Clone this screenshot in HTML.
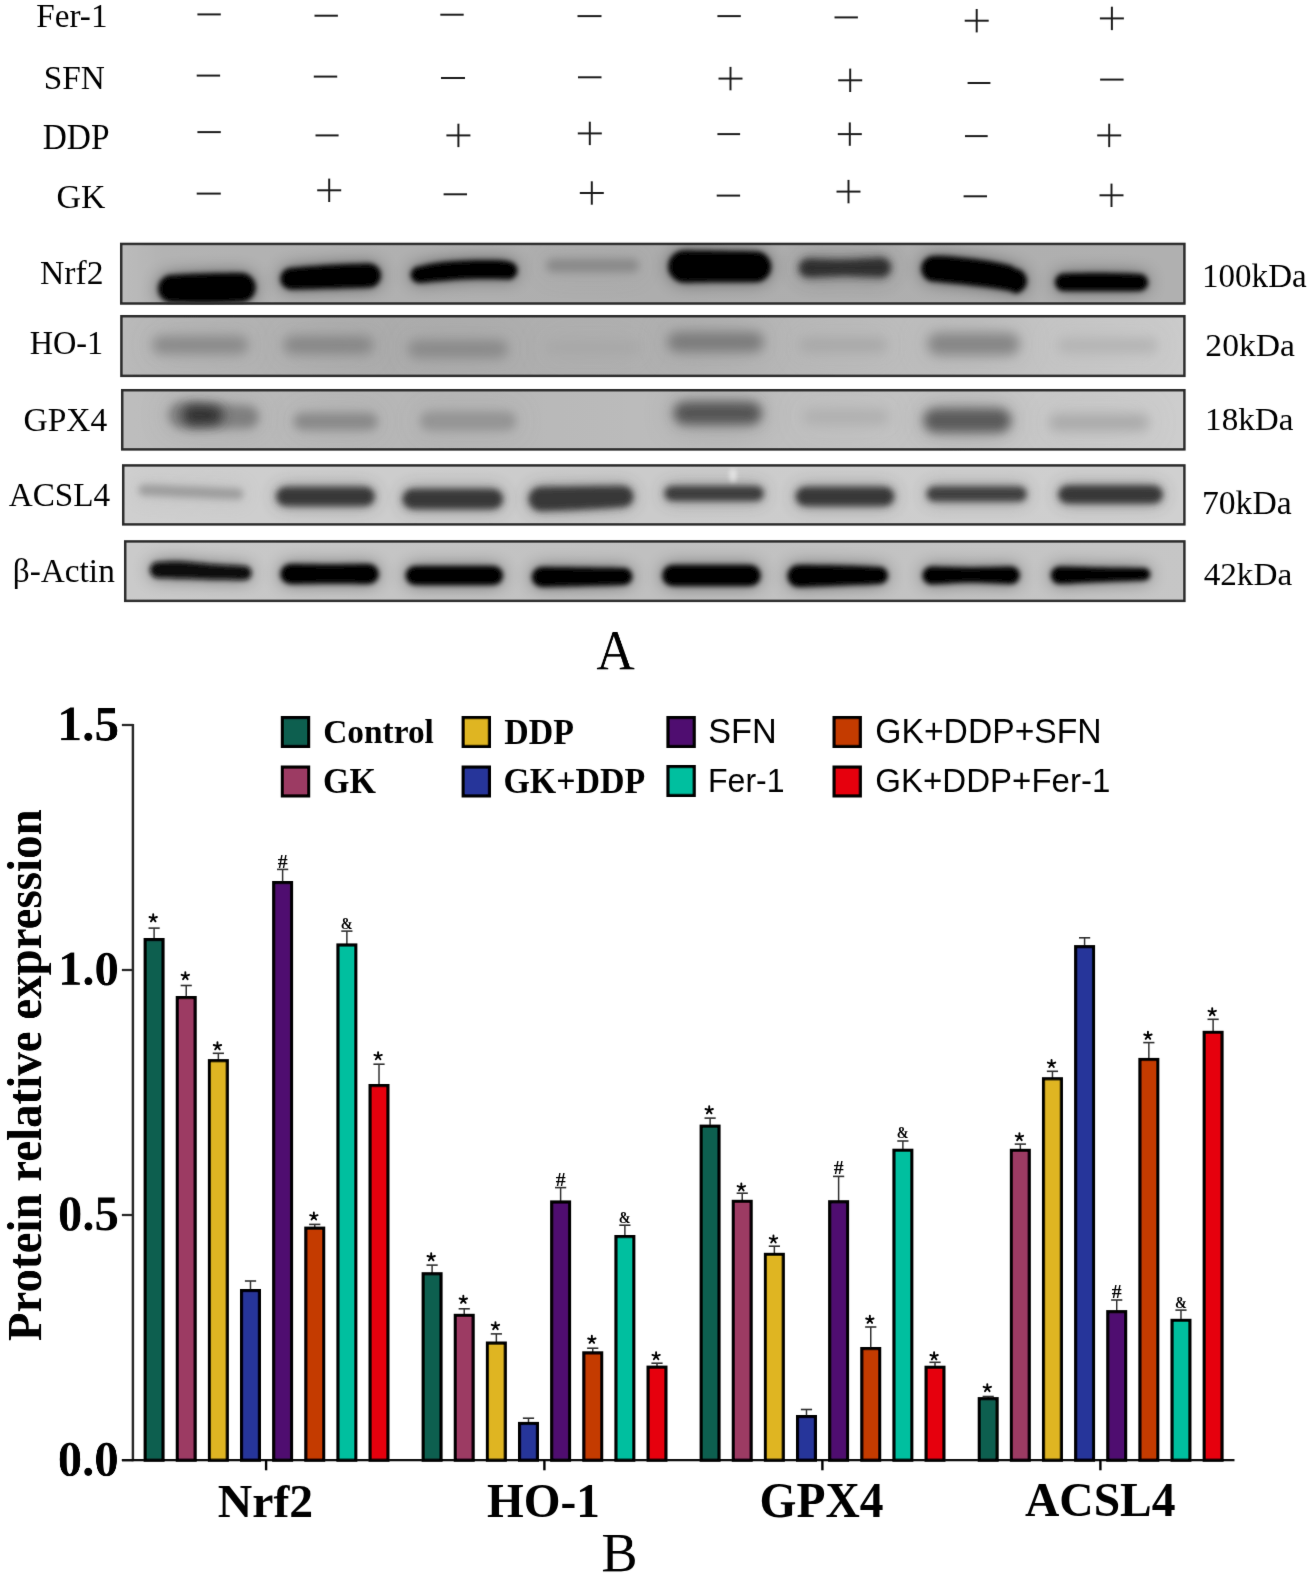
<!DOCTYPE html><html><head><meta charset="utf-8"><style>html,body{margin:0;padding:0;background:#fff;}svg{display:block;will-change:transform;}</style></head><body>
<svg width="1315" height="1580" viewBox="0 0 1315 1580"><defs><linearGradient id="g0" x1="0" y1="0" x2="1" y2="0"><stop offset="0" stop-color="#bcbcbc"/><stop offset="0.04" stop-color="#b3b3b3"/><stop offset="0.5" stop-color="#adadad"/><stop offset="1" stop-color="#b0b0b0"/></linearGradient><clipPath id="c0"><rect x="120.0" y="242.7" width="1065.6" height="62.0"/></clipPath><linearGradient id="g1" x1="0" y1="0" x2="1" y2="0"><stop offset="0" stop-color="#bababa"/><stop offset="0.25" stop-color="#adadad"/><stop offset="0.5" stop-color="#b0b0b0"/><stop offset="0.75" stop-color="#bdbdbd"/><stop offset="1" stop-color="#cbcbcb"/></linearGradient><clipPath id="c1"><rect x="120.2" y="315.0" width="1065.3999999999999" height="62.10000000000002"/></clipPath><linearGradient id="g2" x1="0" y1="0" x2="1" y2="0"><stop offset="0" stop-color="#bdbdbd"/><stop offset="0.3" stop-color="#b6b6b6"/><stop offset="0.6" stop-color="#bebebe"/><stop offset="1" stop-color="#cdcdcd"/></linearGradient><clipPath id="c2"><rect x="121.0" y="389.0" width="1064.6" height="61.60000000000002"/></clipPath><linearGradient id="g3" x1="0" y1="0" x2="1" y2="0"><stop offset="0" stop-color="#cfcfcf"/><stop offset="0.5" stop-color="#cbcbcb"/><stop offset="1" stop-color="#d0d0d0"/></linearGradient><clipPath id="c3"><rect x="122.0" y="464.2" width="1063.6" height="61.400000000000034"/></clipPath><linearGradient id="g4" x1="0" y1="0" x2="1" y2="0"><stop offset="0" stop-color="#cacaca"/><stop offset="0.5" stop-color="#c0c0c0"/><stop offset="1" stop-color="#c6c6c6"/></linearGradient><clipPath id="c4"><rect x="124.0" y="540.2" width="1061.6" height="61.89999999999998"/></clipPath><filter id="f2_0" filterUnits="userSpaceOnUse" x="0" y="230" width="1315" height="385"><feGaussianBlur stdDeviation="2.0"/></filter><filter id="f2_8" filterUnits="userSpaceOnUse" x="0" y="230" width="1315" height="385"><feGaussianBlur stdDeviation="2.8"/></filter><filter id="f3" filterUnits="userSpaceOnUse" x="0" y="230" width="1315" height="385"><feGaussianBlur stdDeviation="3"/></filter><filter id="f3_5" filterUnits="userSpaceOnUse" x="0" y="230" width="1315" height="385"><feGaussianBlur stdDeviation="3.5"/></filter><filter id="f3_8" filterUnits="userSpaceOnUse" x="0" y="230" width="1315" height="385"><feGaussianBlur stdDeviation="3.8"/></filter><filter id="f4_5" filterUnits="userSpaceOnUse" x="0" y="230" width="1315" height="385"><feGaussianBlur stdDeviation="4.5"/></filter><filter id="f5" filterUnits="userSpaceOnUse" x="0" y="230" width="1315" height="385"><feGaussianBlur stdDeviation="5"/></filter><filter id="f5_5" filterUnits="userSpaceOnUse" x="0" y="230" width="1315" height="385"><feGaussianBlur stdDeviation="5.5"/></filter><filter id="f6" filterUnits="userSpaceOnUse" x="0" y="230" width="1315" height="385"><feGaussianBlur stdDeviation="6"/></filter><filter id="f8_4" filterUnits="userSpaceOnUse" x="0" y="230" width="1315" height="385"><feGaussianBlur stdDeviation="8.4"/></filter><filter id="f9" filterUnits="userSpaceOnUse" x="0" y="230" width="1315" height="385"><feGaussianBlur stdDeviation="9"/></filter><filter id="f10_5" filterUnits="userSpaceOnUse" x="0" y="230" width="1315" height="385"><feGaussianBlur stdDeviation="10.5"/></filter><filter id="f11_4" filterUnits="userSpaceOnUse" x="0" y="230" width="1315" height="385"><feGaussianBlur stdDeviation="11.4"/></filter><filter id="f13_5" filterUnits="userSpaceOnUse" x="0" y="230" width="1315" height="385"><feGaussianBlur stdDeviation="13.5"/></filter><filter id="f15" filterUnits="userSpaceOnUse" x="0" y="230" width="1315" height="385"><feGaussianBlur stdDeviation="15"/></filter><filter id="f16_5" filterUnits="userSpaceOnUse" x="0" y="230" width="1315" height="385"><feGaussianBlur stdDeviation="16.5"/></filter><filter id="f18" filterUnits="userSpaceOnUse" x="0" y="230" width="1315" height="385"><feGaussianBlur stdDeviation="18"/></filter><filter id="soft" filterUnits="userSpaceOnUse" x="0" y="0" width="1315" height="1580"><feConvolveMatrix order="3" kernelMatrix="0.00525 0.0619 0.00525 0.0619 0.7314 0.0619 0.00525 0.0619 0.00525" divisor="1" edgeMode="none"/></filter></defs><rect width="1315" height="1580" fill="#fff"/><g filter="url(#soft)"><line x1="197.4" y1="14.4" x2="220.8" y2="14.4" stroke="#1e1e1e" stroke-width="2"/>
<line x1="314.5" y1="15.7" x2="337.9" y2="15.7" stroke="#1e1e1e" stroke-width="2"/>
<line x1="440.3" y1="14.7" x2="463.7" y2="14.7" stroke="#1e1e1e" stroke-width="2"/>
<line x1="577.5" y1="16.1" x2="601.5" y2="16.1" stroke="#1e1e1e" stroke-width="2"/>
<line x1="717.4" y1="16.1" x2="740.8" y2="16.1" stroke="#1e1e1e" stroke-width="2"/>
<line x1="834.5" y1="17.4" x2="857.9" y2="17.4" stroke="#1e1e1e" stroke-width="2"/>
<line x1="964.7" y1="20.7" x2="988.7" y2="20.7" stroke="#1e1e1e" stroke-width="2"/>
<line x1="976.7" y1="9.0" x2="976.7" y2="32.4" stroke="#1e1e1e" stroke-width="2"/>
<line x1="1099.9" y1="18.4" x2="1123.9" y2="18.4" stroke="#1e1e1e" stroke-width="2"/>
<line x1="1111.9" y1="6.7" x2="1111.9" y2="30.1" stroke="#1e1e1e" stroke-width="2"/>
<line x1="196.7" y1="75.6" x2="220.1" y2="75.6" stroke="#1e1e1e" stroke-width="2"/>
<line x1="313.8" y1="76.6" x2="337.2" y2="76.6" stroke="#1e1e1e" stroke-width="2"/>
<line x1="441" y1="78" x2="465" y2="78" stroke="#1e1e1e" stroke-width="2"/>
<line x1="578" y1="77.3" x2="601.5" y2="77.3" stroke="#1e1e1e" stroke-width="2"/>
<line x1="718.5" y1="78.6" x2="742.5" y2="78.6" stroke="#1e1e1e" stroke-width="2"/>
<line x1="730.5" y1="66.9" x2="730.5" y2="90.3" stroke="#1e1e1e" stroke-width="2"/>
<line x1="838.2" y1="80.3" x2="862.2" y2="80.3" stroke="#1e1e1e" stroke-width="2"/>
<line x1="850.2" y1="68.6" x2="850.2" y2="92.0" stroke="#1e1e1e" stroke-width="2"/>
<line x1="967.6" y1="83" x2="990.4" y2="83" stroke="#1e1e1e" stroke-width="2"/>
<line x1="1100.1" y1="79.6" x2="1123.6" y2="79.6" stroke="#1e1e1e" stroke-width="2"/>
<line x1="197.4" y1="132.1" x2="220.8" y2="132.1" stroke="#1e1e1e" stroke-width="2"/>
<line x1="315.5" y1="135.4" x2="338.6" y2="135.4" stroke="#1e1e1e" stroke-width="2"/>
<line x1="446.4" y1="135.4" x2="470.4" y2="135.4" stroke="#1e1e1e" stroke-width="2"/>
<line x1="458.4" y1="123.7" x2="458.4" y2="147.1" stroke="#1e1e1e" stroke-width="2"/>
<line x1="577.8" y1="133.4" x2="601.8" y2="133.4" stroke="#1e1e1e" stroke-width="2"/>
<line x1="589.8" y1="121.7" x2="589.8" y2="145.1" stroke="#1e1e1e" stroke-width="2"/>
<line x1="717.4" y1="134.1" x2="740.1" y2="134.1" stroke="#1e1e1e" stroke-width="2"/>
<line x1="837.8" y1="134.1" x2="861.8" y2="134.1" stroke="#1e1e1e" stroke-width="2"/>
<line x1="849.8" y1="122.4" x2="849.8" y2="145.8" stroke="#1e1e1e" stroke-width="2"/>
<line x1="965" y1="136.1" x2="987.7" y2="136.1" stroke="#1e1e1e" stroke-width="2"/>
<line x1="1097.2" y1="135.4" x2="1121.2" y2="135.4" stroke="#1e1e1e" stroke-width="2"/>
<line x1="1109.2" y1="123.7" x2="1109.2" y2="147.1" stroke="#1e1e1e" stroke-width="2"/>
<line x1="196.7" y1="193.6" x2="220.8" y2="193.6" stroke="#1e1e1e" stroke-width="2"/>
<line x1="317.2" y1="190.3" x2="341.2" y2="190.3" stroke="#1e1e1e" stroke-width="2"/>
<line x1="329.2" y1="178.6" x2="329.2" y2="202.0" stroke="#1e1e1e" stroke-width="2"/>
<line x1="443.6" y1="194.3" x2="467" y2="194.3" stroke="#1e1e1e" stroke-width="2"/>
<line x1="579.8" y1="193" x2="603.8" y2="193" stroke="#1e1e1e" stroke-width="2"/>
<line x1="591.8" y1="181.3" x2="591.8" y2="204.7" stroke="#1e1e1e" stroke-width="2"/>
<line x1="716.7" y1="195.6" x2="740.1" y2="195.6" stroke="#1e1e1e" stroke-width="2"/>
<line x1="836.5" y1="191.6" x2="860.5" y2="191.6" stroke="#1e1e1e" stroke-width="2"/>
<line x1="848.5" y1="179.9" x2="848.5" y2="203.3" stroke="#1e1e1e" stroke-width="2"/>
<line x1="963.6" y1="196.3" x2="987" y2="196.3" stroke="#1e1e1e" stroke-width="2"/>
<line x1="1099.5" y1="195.3" x2="1123.5" y2="195.3" stroke="#1e1e1e" stroke-width="2"/>
<line x1="1111.5" y1="183.6" x2="1111.5" y2="207.0" stroke="#1e1e1e" stroke-width="2"/>
<g clip-path="url(#c0)">
<rect x="120.0" y="242.7" width="1065.6" height="62.0" fill="url(#g0)"/>
<path d="M170.8,275.0 C176.6,274.8 194.3,273.8 206.0,273.5 C217.7,273.2 235.2,273.1 241.1,273.0 A14.5,14.5 0 0 1 241.1,302.0 C235.2,302.2 217.7,302.9 206.0,303.0 C194.3,303.1 176.6,302.6 170.8,302.5 A13.8,13.8 0 0 1 170.8,275.0 Z" fill="#000" opacity="0.5" filter="url(#f8_4)"/>
<path d="M170.8,275.0 C176.6,274.8 194.3,273.8 206.0,273.5 C217.7,273.2 235.2,273.1 241.1,273.0 A14.5,14.5 0 0 1 241.1,302.0 C235.2,302.2 217.7,302.9 206.0,303.0 C194.3,303.1 176.6,302.6 170.8,302.5 A13.8,13.8 0 0 1 170.8,275.0 Z" fill="#000" filter="url(#f2_8)"/>
<path d="M290.1,268.0 C296.7,267.5 316.9,265.8 330.0,265.0 C343.1,264.2 362.4,263.8 368.9,263.5 A12.0,12.0 0 0 1 368.9,287.5 C362.4,287.7 343.1,288.2 330.0,288.5 C316.9,288.8 296.7,289.3 290.1,289.5 A10.8,10.8 0 0 1 290.1,268.0 Z" fill="#000" opacity="0.5" filter="url(#f8_4)"/>
<path d="M290.1,268.0 C296.7,267.5 316.9,265.8 330.0,265.0 C343.1,264.2 362.4,263.8 368.9,263.5 A12.0,12.0 0 0 1 368.9,287.5 C362.4,287.7 343.1,288.2 330.0,288.5 C316.9,288.8 296.7,289.3 290.1,289.5 A10.8,10.8 0 0 1 290.1,268.0 Z" fill="#000" filter="url(#f2_8)"/>
<path d="M418.9,266.5 C422.5,265.8 431.5,263.5 440.0,262.5 C448.5,261.5 460.0,260.8 470.0,260.5 C480.0,260.2 493.6,260.3 500.0,260.5 C506.4,260.7 507.0,261.3 508.4,261.5 A9.0,9.0 0 0 1 508.4,279.5 C507.0,279.4 506.4,279.1 500.0,279.0 C493.6,278.9 480.0,278.7 470.0,279.0 C460.0,279.3 448.5,280.3 440.0,281.0 C431.5,281.7 422.5,282.7 418.9,283.0 A8.2,8.2 0 0 1 418.9,266.5 Z" fill="#000" opacity="0.5" filter="url(#f8_4)"/>
<path d="M418.9,266.5 C422.5,265.8 431.5,263.5 440.0,262.5 C448.5,261.5 460.0,260.8 470.0,260.5 C480.0,260.2 493.6,260.3 500.0,260.5 C506.4,260.7 507.0,261.3 508.4,261.5 A9.0,9.0 0 0 1 508.4,279.5 C507.0,279.4 506.4,279.1 500.0,279.0 C493.6,278.9 480.0,278.7 470.0,279.0 C460.0,279.3 448.5,280.3 440.0,281.0 C431.5,281.7 422.5,282.7 418.9,283.0 A8.2,8.2 0 0 1 418.9,266.5 Z" fill="#000" filter="url(#f2_8)"/>
<path d="M552.5,259.0 C565.8,259.0 619.2,259.0 632.5,259.0 A6.5,6.5 0 0 1 632.5,272.0 C619.2,272.0 565.8,272.0 552.5,272.0 A6.5,6.5 0 0 1 552.5,259.0 Z" fill="#888888" opacity="0.3" filter="url(#f13_5)"/>
<path d="M552.5,259.0 C565.8,259.0 619.2,259.0 632.5,259.0 A6.5,6.5 0 0 1 632.5,272.0 C619.2,272.0 565.8,272.0 552.5,272.0 A6.5,6.5 0 0 1 552.5,259.0 Z" fill="#888888" filter="url(#f4_5)"/>
<path d="M684.3,250.5 C690.2,250.6 708.1,250.8 720.0,251.0 C731.9,251.2 749.8,251.4 755.8,251.5 A15.2,15.2 0 0 1 755.8,282.0 C749.8,282.0 731.9,281.9 720.0,282.0 C708.1,282.1 690.2,282.4 684.3,282.5 A16.0,16.0 0 0 1 684.3,250.5 Z" fill="#000" opacity="0.5" filter="url(#f8_4)"/>
<path d="M684.3,250.5 C690.2,250.6 708.1,250.8 720.0,251.0 C731.9,251.2 749.8,251.4 755.8,251.5 A15.2,15.2 0 0 1 755.8,282.0 C749.8,282.0 731.9,281.9 720.0,282.0 C708.1,282.1 690.2,282.4 684.3,282.5 A16.0,16.0 0 0 1 684.3,250.5 Z" fill="#000" filter="url(#f2_8)"/>
<path d="M808.2,258.5 C814.3,258.7 832.9,259.7 845.0,259.5 C857.1,259.3 875.1,257.8 881.1,257.5 A10.0,10.0 0 0 1 881.1,277.5 C875.1,277.2 857.1,276.0 845.0,276.0 C832.9,276.0 814.3,277.2 808.2,277.5 A9.5,9.5 0 0 1 808.2,258.5 Z" fill="#2e2e2e" opacity="0.45" filter="url(#f11_4)"/>
<path d="M808.2,258.5 C814.3,258.7 832.9,259.7 845.0,259.5 C857.1,259.3 875.1,257.8 881.1,257.5 A10.0,10.0 0 0 1 881.1,277.5 C875.1,277.2 857.1,276.0 845.0,276.0 C832.9,276.0 814.3,277.2 808.2,277.5 A9.5,9.5 0 0 1 808.2,258.5 Z" fill="#2e2e2e" filter="url(#f3_8)"/>
<path d="M933.0,256.0 C935.9,256.1 941.3,255.8 950.0,256.5 C958.7,257.2 975.0,259.0 985.0,260.5 C995.0,262.0 1005.1,264.2 1010.0,265.5 C1014.9,266.8 1013.6,268.0 1014.3,268.5 A12.5,12.5 0 0 1 1014.3,293.5 C1013.6,293.1 1014.9,292.1 1010.0,291.0 C1005.1,289.9 995.0,288.3 985.0,287.0 C975.0,285.7 958.7,283.9 950.0,283.0 C941.3,282.1 935.9,281.8 933.0,281.5 A12.8,12.8 0 0 1 933.0,256.0 Z" fill="#000" opacity="0.5" filter="url(#f8_4)"/>
<path d="M933.0,256.0 C935.9,256.1 941.3,255.8 950.0,256.5 C958.7,257.2 975.0,259.0 985.0,260.5 C995.0,262.0 1005.1,264.2 1010.0,265.5 C1014.9,266.8 1013.6,268.0 1014.3,268.5 A12.5,12.5 0 0 1 1014.3,293.5 C1013.6,293.1 1014.9,292.1 1010.0,291.0 C1005.1,289.9 995.0,288.3 985.0,287.0 C975.0,285.7 958.7,283.9 950.0,283.0 C941.3,282.1 935.9,281.8 933.0,281.5 A12.8,12.8 0 0 1 933.0,256.0 Z" fill="#000" filter="url(#f2_8)"/>
<path d="M1062.8,273.5 C1069.2,273.4 1088.2,272.9 1101.0,273.0 C1113.8,273.1 1133.2,273.8 1139.6,274.0 A8.5,8.5 0 0 1 1139.6,291.0 C1133.2,291.0 1113.8,291.0 1101.0,291.0 C1088.2,291.0 1069.2,291.0 1062.8,291.0 A8.8,8.8 0 0 1 1062.8,273.5 Z" fill="#000" opacity="0.5" filter="url(#f8_4)"/>
<path d="M1062.8,273.5 C1069.2,273.4 1088.2,272.9 1101.0,273.0 C1113.8,273.1 1133.2,273.8 1139.6,274.0 A8.5,8.5 0 0 1 1139.6,291.0 C1133.2,291.0 1113.8,291.0 1101.0,291.0 C1088.2,291.0 1069.2,291.0 1062.8,291.0 A8.8,8.8 0 0 1 1062.8,273.5 Z" fill="#000" filter="url(#f2_8)"/>
</g>
<rect x="121.25" y="243.95" width="1063.1" height="59.5" fill="none" stroke="#2b2b2b" stroke-width="2.5"/>
<g clip-path="url(#c1)">
<rect x="120.2" y="315.0" width="1065.3999999999999" height="62.10000000000002" fill="url(#g1)"/>
<path d="M161.0,336.0 C174.1,336.0 226.4,336.0 239.5,336.0 A9.0,9.0 0 0 1 239.5,354.0 C226.4,354.0 174.1,354.0 161.0,354.0 A9.0,9.0 0 0 1 161.0,336.0 Z" fill="#8a8a8a" opacity="0.3" filter="url(#f18)"/>
<path d="M161.0,336.0 C174.1,336.0 226.4,336.0 239.5,336.0 A9.0,9.0 0 0 1 239.5,354.0 C226.4,354.0 174.1,354.0 161.0,354.0 A9.0,9.0 0 0 1 161.0,336.0 Z" fill="#8a8a8a" filter="url(#f6)"/>
<path d="M292.4,336.0 C304.4,336.0 352.6,336.0 364.7,336.0 A9.0,9.0 0 0 1 364.7,354.0 C352.6,354.0 304.4,354.0 292.4,354.0 A9.0,9.0 0 0 1 292.4,336.0 Z" fill="#878787" opacity="0.3" filter="url(#f18)"/>
<path d="M292.4,336.0 C304.4,336.0 352.6,336.0 364.7,336.0 A9.0,9.0 0 0 1 364.7,354.0 C352.6,354.0 304.4,354.0 292.4,354.0 A9.0,9.0 0 0 1 292.4,336.0 Z" fill="#878787" filter="url(#f6)"/>
<path d="M416.6,340.0 C430.4,340.0 485.4,340.0 499.2,340.0 A9.0,9.0 0 0 1 499.2,358.0 C485.4,358.0 430.4,358.0 416.6,358.0 A9.0,9.0 0 0 1 416.6,340.0 Z" fill="#8a8a8a" opacity="0.3" filter="url(#f18)"/>
<path d="M416.6,340.0 C430.4,340.0 485.4,340.0 499.2,340.0 A9.0,9.0 0 0 1 499.2,358.0 C485.4,358.0 430.4,358.0 416.6,358.0 A9.0,9.0 0 0 1 416.6,340.0 Z" fill="#8a8a8a" filter="url(#f6)"/>
<path d="M552.5,340.0 C565.8,340.0 619.2,340.0 632.5,340.0 A7.5,7.5 0 0 1 632.5,355.0 C619.2,355.0 565.8,355.0 552.5,355.0 A7.5,7.5 0 0 1 552.5,340.0 Z" fill="#a8a8a8" opacity="0.2" filter="url(#f18)"/>
<path d="M552.5,340.0 C565.8,340.0 619.2,340.0 632.5,340.0 A7.5,7.5 0 0 1 632.5,355.0 C619.2,355.0 565.8,355.0 552.5,355.0 A7.5,7.5 0 0 1 552.5,340.0 Z" fill="#a8a8a8" filter="url(#f6)"/>
<path d="M677.3,332.0 C690.0,332.0 741.0,332.0 753.8,332.0 A10.0,10.0 0 0 1 753.8,352.0 C741.0,352.0 690.0,352.0 677.3,352.0 A10.0,10.0 0 0 1 677.3,332.0 Z" fill="#7c7c7c" opacity="0.3" filter="url(#f18)"/>
<path d="M677.3,332.0 C690.0,332.0 741.0,332.0 753.8,332.0 A10.0,10.0 0 0 1 753.8,352.0 C741.0,352.0 690.0,352.0 677.3,352.0 A10.0,10.0 0 0 1 677.3,332.0 Z" fill="#7c7c7c" filter="url(#f6)"/>
<path d="M805.7,338.0 C818.1,338.0 867.6,338.0 880.0,338.0 A7.0,7.0 0 0 1 880.0,352.0 C867.6,352.0 818.1,352.0 805.7,352.0 A7.0,7.0 0 0 1 805.7,338.0 Z" fill="#a8a8a8" opacity="0.2" filter="url(#f18)"/>
<path d="M805.7,338.0 C818.1,338.0 867.6,338.0 880.0,338.0 A7.0,7.0 0 0 1 880.0,352.0 C867.6,352.0 818.1,352.0 805.7,352.0 A7.0,7.0 0 0 1 805.7,338.0 Z" fill="#a8a8a8" filter="url(#f6)"/>
<path d="M938.5,333.0 C950.2,333.0 996.9,333.0 1008.6,333.0 A11.0,11.0 0 0 1 1008.6,355.0 C996.9,355.0 950.2,355.0 938.5,355.0 A11.0,11.0 0 0 1 938.5,333.0 Z" fill="#868686" opacity="0.3" filter="url(#f18)"/>
<path d="M938.5,333.0 C950.2,333.0 996.9,333.0 1008.6,333.0 A11.0,11.0 0 0 1 1008.6,355.0 C996.9,355.0 950.2,355.0 938.5,355.0 A11.0,11.0 0 0 1 938.5,333.0 Z" fill="#868686" filter="url(#f6)"/>
<path d="M1064.7,338.0 C1078.9,338.0 1135.9,338.0 1150.1,338.0 A7.5,7.5 0 0 1 1150.1,353.0 C1135.9,353.0 1078.9,353.0 1064.7,353.0 A7.5,7.5 0 0 1 1064.7,338.0 Z" fill="#b4b4b4" opacity="0.2" filter="url(#f18)"/>
<path d="M1064.7,338.0 C1078.9,338.0 1135.9,338.0 1150.1,338.0 A7.5,7.5 0 0 1 1150.1,353.0 C1135.9,353.0 1078.9,353.0 1064.7,353.0 A7.5,7.5 0 0 1 1064.7,338.0 Z" fill="#b4b4b4" filter="url(#f6)"/>
</g>
<rect x="121.45" y="316.25" width="1062.8999999999999" height="59.60000000000002" fill="none" stroke="#2b2b2b" stroke-width="2.5"/>
<g clip-path="url(#c2)">
<rect x="121.0" y="389.0" width="1064.6" height="61.60000000000002" fill="url(#g2)"/>
<path d="M181.4,402.0 C192.4,402.7 236.6,405.3 247.7,406.0 A11.0,11.0 0 0 1 247.7,428.0 C236.6,428.0 192.4,428.0 181.4,428.0 A13.0,13.0 0 0 1 181.4,402.0 Z" fill="#7f7f7f" opacity="0.35" filter="url(#f15)"/>
<path d="M181.4,402.0 C192.4,402.7 236.6,405.3 247.7,406.0 A11.0,11.0 0 0 1 247.7,428.0 C236.6,428.0 192.4,428.0 181.4,428.0 A13.0,13.0 0 0 1 181.4,402.0 Z" fill="#7f7f7f" filter="url(#f5)"/>
<path d="M191.8,404.5 C195.5,404.7 210.5,405.3 214.2,405.5 A9.8,9.8 0 0 1 214.2,425.0 C210.5,425.2 195.5,425.8 191.8,426.0 A10.8,10.8 0 0 1 191.8,404.5 Z" fill="#333333" filter="url(#f6)"/>
<path d="M302.1,413.0 C313.3,413.0 358.1,413.0 369.3,413.0 A8.5,8.5 0 0 1 369.3,430.0 C358.1,430.0 313.3,430.0 302.1,430.0 A8.5,8.5 0 0 1 302.1,413.0 Z" fill="#898989" opacity="0.3" filter="url(#f15)"/>
<path d="M302.1,413.0 C313.3,413.0 358.1,413.0 369.3,413.0 A8.5,8.5 0 0 1 369.3,430.0 C358.1,430.0 313.3,430.0 302.1,430.0 A8.5,8.5 0 0 1 302.1,413.0 Z" fill="#898989" filter="url(#f5)"/>
<path d="M429.4,411.5 C442.3,411.5 494.0,411.5 506.9,411.5 A9.5,9.5 0 0 1 506.9,430.5 C494.0,430.5 442.3,430.5 429.4,430.5 A9.5,9.5 0 0 1 429.4,411.5 Z" fill="#949494" opacity="0.3" filter="url(#f15)"/>
<path d="M429.4,411.5 C442.3,411.5 494.0,411.5 506.9,411.5 A9.5,9.5 0 0 1 506.9,430.5 C494.0,430.5 442.3,430.5 429.4,430.5 A9.5,9.5 0 0 1 429.4,411.5 Z" fill="#949494" filter="url(#f5)"/>
<path d="M684.8,402.0 C695.7,402.0 739.6,402.0 750.5,402.0 A11.2,11.2 0 0 1 750.5,424.5 C739.6,424.5 695.7,424.5 684.8,424.5 A11.2,11.2 0 0 1 684.8,402.0 Z" fill="#555555" opacity="0.35" filter="url(#f16_5)"/>
<path d="M684.8,402.0 C695.7,402.0 739.6,402.0 750.5,402.0 A11.2,11.2 0 0 1 750.5,424.5 C739.6,424.5 695.7,424.5 684.8,424.5 A11.2,11.2 0 0 1 684.8,402.0 Z" fill="#555555" filter="url(#f5_5)"/>
<path d="M810.8,409.0 C822.5,409.0 869.3,409.0 881.0,409.0 A8.0,8.0 0 0 1 881.0,425.0 C869.3,425.0 822.5,425.0 810.8,425.0 A8.0,8.0 0 0 1 810.8,409.0 Z" fill="#b0b0b0" opacity="0.2" filter="url(#f18)"/>
<path d="M810.8,409.0 C822.5,409.0 869.3,409.0 881.0,409.0 A8.0,8.0 0 0 1 881.0,425.0 C869.3,425.0 822.5,425.0 810.8,425.0 A8.0,8.0 0 0 1 810.8,409.0 Z" fill="#b0b0b0" filter="url(#f6)"/>
<path d="M935.4,408.5 C946.0,408.5 988.6,408.5 999.2,408.5 A12.0,12.0 0 0 1 999.2,432.5 C988.6,432.5 946.0,432.5 935.4,432.5 A12.0,12.0 0 0 1 935.4,408.5 Z" fill="#5a5a5a" opacity="0.35" filter="url(#f16_5)"/>
<path d="M935.4,408.5 C946.0,408.5 988.6,408.5 999.2,408.5 A12.0,12.0 0 0 1 999.2,432.5 C988.6,432.5 946.0,432.5 935.4,432.5 A12.0,12.0 0 0 1 935.4,408.5 Z" fill="#5a5a5a" filter="url(#f5_5)"/>
<path d="M1057.3,414.0 C1071.2,414.0 1126.8,414.0 1140.7,414.0 A8.5,8.5 0 0 1 1140.7,431.0 C1126.8,431.0 1071.2,431.0 1057.3,431.0 A8.5,8.5 0 0 1 1057.3,414.0 Z" fill="#aaaaaa" opacity="0.2" filter="url(#f18)"/>
<path d="M1057.3,414.0 C1071.2,414.0 1126.8,414.0 1140.7,414.0 A8.5,8.5 0 0 1 1140.7,431.0 C1126.8,431.0 1071.2,431.0 1057.3,431.0 A8.5,8.5 0 0 1 1057.3,414.0 Z" fill="#aaaaaa" filter="url(#f6)"/>
</g>
<rect x="122.25" y="390.25" width="1062.1" height="59.10000000000002" fill="none" stroke="#2b2b2b" stroke-width="2.5"/>
<g clip-path="url(#c3)">
<rect x="122.0" y="464.2" width="1063.6" height="61.400000000000034" fill="url(#g3)"/>
<path d="M144.1,484.5 C159.7,485.2 222.2,487.8 237.8,488.5 A5.5,5.5 0 0 1 237.8,499.5 C222.2,498.8 159.7,496.2 144.1,495.5 A5.5,5.5 0 0 1 144.1,484.5 Z" fill="#9c9c9c" opacity="0.3" filter="url(#f10_5)"/>
<path d="M144.1,484.5 C159.7,485.2 222.2,487.8 237.8,488.5 A5.5,5.5 0 0 1 237.8,499.5 C222.2,498.8 159.7,496.2 144.1,495.5 A5.5,5.5 0 0 1 144.1,484.5 Z" fill="#9c9c9c" filter="url(#f3_5)"/>
<path d="M285.7,487.0 C298.9,487.0 351.9,487.0 365.2,487.0 A9.5,9.5 0 0 1 365.2,506.0 C351.9,506.0 298.9,506.0 285.7,506.0 A9.5,9.5 0 0 1 285.7,487.0 Z" fill="#383838" opacity="0.45" filter="url(#f9)"/>
<path d="M285.7,487.0 C298.9,487.0 351.9,487.0 365.2,487.0 A9.5,9.5 0 0 1 365.2,506.0 C351.9,506.0 298.9,506.0 285.7,506.0 A9.5,9.5 0 0 1 285.7,487.0 Z" fill="#383838" filter="url(#f3)"/>
<path d="M412.5,489.0 C425.9,489.0 479.6,489.0 493.0,489.0 A10.0,10.0 0 0 1 493.0,509.0 C479.6,509.0 425.9,509.0 412.5,509.0 A10.0,10.0 0 0 1 412.5,489.0 Z" fill="#383838" opacity="0.45" filter="url(#f9)"/>
<path d="M412.5,489.0 C425.9,489.0 479.6,489.0 493.0,489.0 A10.0,10.0 0 0 1 493.0,509.0 C479.6,509.0 425.9,509.0 412.5,509.0 A10.0,10.0 0 0 1 412.5,489.0 Z" fill="#383838" filter="url(#f3)"/>
<path d="M540.8,487.0 C547.5,486.9 567.3,486.7 581.0,486.5 C594.7,486.3 615.9,486.1 622.9,486.0 A10.5,10.5 0 0 1 622.9,507.0 C615.9,507.4 594.7,508.8 581.0,509.5 C567.3,510.2 547.5,510.8 540.8,511.0 A12.0,12.0 0 0 1 540.8,487.0 Z" fill="#383838" opacity="0.45" filter="url(#f9)"/>
<path d="M540.8,487.0 C547.5,486.9 567.3,486.7 581.0,486.5 C594.7,486.3 615.9,486.1 622.9,486.0 A10.5,10.5 0 0 1 622.9,507.0 C615.9,507.4 594.7,508.8 581.0,509.5 C567.3,510.2 547.5,510.8 540.8,511.0 A12.0,12.0 0 0 1 540.8,487.0 Z" fill="#383838" filter="url(#f3)"/>
<path d="M671.8,486.0 C685.9,486.0 742.2,486.0 756.3,486.0 A7.5,7.5 0 0 1 756.3,501.0 C742.2,501.0 685.9,501.0 671.8,501.0 A7.5,7.5 0 0 1 671.8,486.0 Z" fill="#3e3e3e" opacity="0.45" filter="url(#f9)"/>
<path d="M671.8,486.0 C685.9,486.0 742.2,486.0 756.3,486.0 A7.5,7.5 0 0 1 756.3,501.0 C742.2,501.0 685.9,501.0 671.8,501.0 A7.5,7.5 0 0 1 671.8,486.0 Z" fill="#3e3e3e" filter="url(#f3)"/>
<path d="M805.2,487.0 C818.5,487.0 871.5,487.0 884.7,487.0 A9.5,9.5 0 0 1 884.7,506.0 C871.5,506.0 818.5,506.0 805.2,506.0 A9.5,9.5 0 0 1 805.2,487.0 Z" fill="#383838" opacity="0.45" filter="url(#f9)"/>
<path d="M805.2,487.0 C818.5,487.0 871.5,487.0 884.7,487.0 A9.5,9.5 0 0 1 884.7,506.0 C871.5,506.0 818.5,506.0 805.2,506.0 A9.5,9.5 0 0 1 805.2,487.0 Z" fill="#383838" filter="url(#f3)"/>
<path d="M934.0,486.5 C948.2,486.5 1005.1,486.5 1019.3,486.5 A7.5,7.5 0 0 1 1019.3,501.5 C1005.1,501.5 948.2,501.5 934.0,501.5 A7.5,7.5 0 0 1 934.0,486.5 Z" fill="#414141" opacity="0.45" filter="url(#f9)"/>
<path d="M934.0,486.5 C948.2,486.5 1005.1,486.5 1019.3,486.5 A7.5,7.5 0 0 1 1019.3,501.5 C1005.1,501.5 948.2,501.5 934.0,501.5 A7.5,7.5 0 0 1 934.0,486.5 Z" fill="#414141" filter="url(#f3)"/>
<path d="M1067.3,485.5 C1081.7,485.5 1139.4,485.5 1153.8,485.5 A9.0,9.0 0 0 1 1153.8,503.5 C1139.4,503.5 1081.7,503.5 1067.3,503.5 A9.0,9.0 0 0 1 1067.3,485.5 Z" fill="#383838" opacity="0.45" filter="url(#f9)"/>
<path d="M1067.3,485.5 C1081.7,485.5 1139.4,485.5 1153.8,485.5 A9.0,9.0 0 0 1 1153.8,503.5 C1139.4,503.5 1081.7,503.5 1067.3,503.5 A9.0,9.0 0 0 1 1067.3,485.5 Z" fill="#383838" filter="url(#f3)"/>
<ellipse cx="733" cy="475" rx="4" ry="7" fill="#f4f4f4" opacity="0.6" filter="url(#f2_0)"/>
</g>
<rect x="123.25" y="465.45" width="1061.1" height="58.900000000000034" fill="none" stroke="#2b2b2b" stroke-width="2.5"/>
<g clip-path="url(#c4)">
<rect x="124.0" y="540.2" width="1061.6" height="61.89999999999998" fill="url(#g4)"/>
<path d="M158.0,562.0 C161.7,561.9 170.5,561.1 180.0,561.5 C189.5,561.9 204.2,563.8 215.0,564.5 C225.8,565.2 239.6,565.8 244.5,566.0 A7.0,7.0 0 0 1 244.5,580.0 C239.6,579.9 225.8,579.8 215.0,579.5 C204.2,579.2 189.5,578.8 180.0,578.5 C170.5,578.2 161.7,578.1 158.0,578.0 A8.0,8.0 0 0 1 158.0,562.0 Z" fill="#0a0a0a" opacity="0.5" filter="url(#f8_4)"/>
<path d="M158.0,562.0 C161.7,561.9 170.5,561.1 180.0,561.5 C189.5,561.9 204.2,563.8 215.0,564.5 C225.8,565.2 239.6,565.8 244.5,566.0 A7.0,7.0 0 0 1 244.5,580.0 C239.6,579.9 225.8,579.8 215.0,579.5 C204.2,579.2 189.5,578.8 180.0,578.5 C170.5,578.2 161.7,578.1 158.0,578.0 A8.0,8.0 0 0 1 158.0,562.0 Z" fill="#0a0a0a" filter="url(#f2_8)"/>
<path d="M290.3,564.0 C296.9,564.1 316.9,564.5 330.0,564.5 C343.1,564.5 362.3,564.1 368.8,564.0 A10.0,10.0 0 0 1 368.8,584.0 C362.3,583.9 343.1,583.5 330.0,583.5 C316.9,583.5 296.9,583.9 290.3,584.0 A10.0,10.0 0 0 1 290.3,564.0 Z" fill="#000" opacity="0.5" filter="url(#f8_4)"/>
<path d="M290.3,564.0 C296.9,564.1 316.9,564.5 330.0,564.5 C343.1,564.5 362.3,564.1 368.8,564.0 A10.0,10.0 0 0 1 368.8,584.0 C362.3,583.9 343.1,583.5 330.0,583.5 C316.9,583.5 296.9,583.9 290.3,584.0 A10.0,10.0 0 0 1 290.3,564.0 Z" fill="#000" filter="url(#f2_8)"/>
<path d="M415.1,566.0 C428.2,566.0 480.4,566.0 493.5,566.0 A9.5,9.5 0 0 1 493.5,585.0 C480.4,585.0 428.2,585.0 415.1,585.0 A9.5,9.5 0 0 1 415.1,566.0 Z" fill="#000" opacity="0.5" filter="url(#f8_4)"/>
<path d="M415.1,566.0 C428.2,566.0 480.4,566.0 493.5,566.0 A9.5,9.5 0 0 1 493.5,585.0 C480.4,585.0 428.2,585.0 415.1,585.0 A9.5,9.5 0 0 1 415.1,566.0 Z" fill="#000" filter="url(#f2_8)"/>
<path d="M541.8,567.0 C555.5,567.2 610.2,567.8 623.9,568.0 A8.5,8.5 0 0 1 623.9,585.0 C610.2,585.3 555.5,586.7 541.8,587.0 A10.0,10.0 0 0 1 541.8,567.0 Z" fill="#000" opacity="0.5" filter="url(#f8_4)"/>
<path d="M541.8,567.0 C555.5,567.2 610.2,567.8 623.9,568.0 A8.5,8.5 0 0 1 623.9,585.0 C610.2,585.3 555.5,586.7 541.8,587.0 A10.0,10.0 0 0 1 541.8,567.0 Z" fill="#000" filter="url(#f2_8)"/>
<path d="M672.7,565.0 C685.6,565.0 737.3,565.0 750.2,565.0 A10.5,10.5 0 0 1 750.2,586.0 C737.3,586.0 685.6,586.0 672.7,586.0 A10.5,10.5 0 0 1 672.7,565.0 Z" fill="#000" opacity="0.5" filter="url(#f8_4)"/>
<path d="M672.7,565.0 C685.6,565.0 737.3,565.0 750.2,565.0 A10.5,10.5 0 0 1 750.2,586.0 C737.3,586.0 685.6,586.0 672.7,586.0 A10.5,10.5 0 0 1 672.7,565.0 Z" fill="#000" filter="url(#f2_8)"/>
<path d="M798.5,565.0 C805.4,565.1 826.5,565.2 840.0,565.5 C853.5,565.8 872.9,566.8 879.5,567.0 A8.5,8.5 0 0 1 879.5,584.0 C872.9,584.2 853.5,585.0 840.0,585.5 C826.5,586.0 805.4,586.8 798.5,587.0 A11.0,11.0 0 0 1 798.5,565.0 Z" fill="#000" opacity="0.5" filter="url(#f8_4)"/>
<path d="M798.5,565.0 C805.4,565.1 826.5,565.2 840.0,565.5 C853.5,565.8 872.9,566.8 879.5,567.0 A8.5,8.5 0 0 1 879.5,584.0 C872.9,584.2 853.5,585.0 840.0,585.5 C826.5,586.0 805.4,586.8 798.5,587.0 A11.0,11.0 0 0 1 798.5,565.0 Z" fill="#000" filter="url(#f2_8)"/>
<path d="M931.4,566.5 C937.8,566.7 956.6,567.5 970.0,567.5 C983.4,567.5 1004.9,566.7 1011.9,566.5 A8.8,8.8 0 0 1 1011.9,584.0 C1004.9,583.8 983.4,582.4 970.0,582.5 C956.6,582.6 937.8,584.2 931.4,584.5 A9.0,9.0 0 0 1 931.4,566.5 Z" fill="#000" opacity="0.5" filter="url(#f8_4)"/>
<path d="M931.4,566.5 C937.8,566.7 956.6,567.5 970.0,567.5 C983.4,567.5 1004.9,566.7 1011.9,566.5 A8.8,8.8 0 0 1 1011.9,584.0 C1004.9,583.8 983.4,582.4 970.0,582.5 C956.6,582.6 937.8,584.2 931.4,584.5 A9.0,9.0 0 0 1 931.4,566.5 Z" fill="#000" filter="url(#f2_8)"/>
<path d="M1058.7,566.5 C1065.5,566.7 1085.8,567.2 1100.0,567.5 C1114.2,567.8 1136.6,567.9 1144.0,568.0 A6.2,6.2 0 0 1 1144.0,580.5 C1136.6,580.8 1114.2,581.4 1100.0,582.0 C1085.8,582.6 1065.5,583.7 1058.7,584.0 A8.8,8.8 0 0 1 1058.7,566.5 Z" fill="#000" opacity="0.5" filter="url(#f8_4)"/>
<path d="M1058.7,566.5 C1065.5,566.7 1085.8,567.2 1100.0,567.5 C1114.2,567.8 1136.6,567.9 1144.0,568.0 A6.2,6.2 0 0 1 1144.0,580.5 C1136.6,580.8 1114.2,581.4 1100.0,582.0 C1085.8,582.6 1065.5,583.7 1058.7,584.0 A8.8,8.8 0 0 1 1058.7,566.5 Z" fill="#000" filter="url(#f2_8)"/>
</g>
<rect x="125.25" y="541.45" width="1059.1" height="59.39999999999998" fill="none" stroke="#2b2b2b" stroke-width="2.5"/>
<text transform="translate(36.30 27.46) scale(0.3317 0.3403)" font-family="Liberation Serif" font-weight="normal" font-size="100" fill="#000">Fer-1</text>
<text transform="translate(43.67 89.22) scale(0.3333 0.3403)" font-family="Liberation Serif" font-weight="normal" font-size="100" fill="#000">SFN</text>
<text transform="translate(42.70 148.80) scale(0.3337 0.3554)" font-family="Liberation Serif" font-weight="normal" font-size="100" fill="#000">DDP</text>
<text transform="translate(56.55 207.92) scale(0.3381 0.3418)" font-family="Liberation Serif" font-weight="normal" font-size="100" fill="#000">GK</text>
<text transform="translate(40.09 283.90) scale(0.3361 0.3338)" font-family="Liberation Serif" font-weight="normal" font-size="100" fill="#000">Nrf2</text>
<text transform="translate(29.63 353.52) scale(0.3233 0.3382)" font-family="Liberation Serif" font-weight="normal" font-size="100" fill="#000">HO-1</text>
<text transform="translate(23.46 431.41) scale(0.3348 0.3433)" font-family="Liberation Serif" font-weight="normal" font-size="100" fill="#000">GPX4</text>
<text transform="translate(8.67 506.02) scale(0.3323 0.3382)" font-family="Liberation Serif" font-weight="normal" font-size="100" fill="#000">ACSL4</text>
<text transform="translate(12.70 581.68) scale(0.3334 0.3341)" font-family="Liberation Serif" font-weight="normal" font-size="100" fill="#000">β-Actin</text>
<text transform="translate(1202.02 286.64) scale(0.3307 0.3324)" font-family="Liberation Serif" font-weight="normal" font-size="100" fill="#000">100kDa</text>
<text transform="translate(1205.36 355.55) scale(0.3360 0.3225)" font-family="Liberation Serif" font-weight="normal" font-size="100" fill="#000">20kDa</text>
<text transform="translate(1205.12 430.05) scale(0.3316 0.3239)" font-family="Liberation Serif" font-weight="normal" font-size="100" fill="#000">18kDa</text>
<text transform="translate(1201.94 513.54) scale(0.3368 0.3282)" font-family="Liberation Serif" font-weight="normal" font-size="100" fill="#000">70kDa</text>
<text transform="translate(1203.64 584.67) scale(0.3323 0.3257)" font-family="Liberation Serif" font-weight="normal" font-size="100" fill="#000">42kDa</text>
<text transform="translate(596.17 669.57) scale(0.5343 0.5662)" font-family="Liberation Serif" font-weight="normal" font-size="100" fill="#000">A</text>
<text transform="translate(601.48 1571.10) scale(0.5407 0.5569)" font-family="Liberation Serif" font-weight="normal" font-size="100" fill="#000">B</text>
<text transform="translate(57.34 740.30) scale(0.4947 0.4970)" font-family="Liberation Serif" font-weight="bold" font-size="100" fill="#000">1.5</text>
<text transform="translate(57.90 984.63) scale(0.4876 0.4868)" font-family="Liberation Serif" font-weight="bold" font-size="100" fill="#000">1.0</text>
<text transform="translate(57.95 1230.00) scale(0.4872 0.5000)" font-family="Liberation Serif" font-weight="bold" font-size="100" fill="#000">0.5</text>
<text transform="translate(57.75 1475.30) scale(0.4872 0.4985)" font-family="Liberation Serif" font-weight="bold" font-size="100" fill="#000">0.0</text>
<text transform="translate(217.75 1516.53) scale(0.4773 0.4662)" font-family="Liberation Serif" font-weight="bold" font-size="100" fill="#000">Nrf2</text>
<text transform="translate(486.95 1516.71) scale(0.4728 0.4941)" font-family="Liberation Serif" font-weight="bold" font-size="100" fill="#000">HO-1</text>
<text transform="translate(759.53 1516.99) scale(0.4748 0.5061)" font-family="Liberation Serif" font-weight="bold" font-size="100" fill="#000">GPX4</text>
<text transform="translate(1025.02 1516.03) scale(0.4755 0.4838)" font-family="Liberation Serif" font-weight="bold" font-size="100" fill="#000">ACSL4</text>
<text transform="translate(323.13 743.45) scale(0.3342 0.3471)" font-family="Liberation Serif" font-weight="bold" font-size="100" fill="#000">Control</text>
<text transform="translate(323.10 792.94) scale(0.3400 0.3591)" font-family="Liberation Serif" font-weight="bold" font-size="100" fill="#000">GK</text>
<text transform="translate(504.22 743.80) scale(0.3388 0.3554)" font-family="Liberation Serif" font-weight="bold" font-size="100" fill="#000">DDP</text>
<text transform="translate(503.40 792.94) scale(0.3393 0.3591)" font-family="Liberation Serif" font-weight="bold" font-size="100" fill="#000">GK+DDP</text>
<text transform="translate(708.29 742.96) scale(0.3422 0.3423)" font-family="Liberation Sans" font-weight="normal" font-size="100" fill="#000">SFN</text>
<text transform="translate(708.04 792.16) scale(0.3204 0.3357)" font-family="Liberation Sans" font-weight="normal" font-size="100" fill="#000">Fer-1</text>
<text transform="translate(875.32 742.96) scale(0.3366 0.3423)" font-family="Liberation Sans" font-weight="normal" font-size="100" fill="#000">GK+DDP+SFN</text>
<text transform="translate(875.35 792.17) scale(0.3304 0.3310)" font-family="Liberation Sans" font-weight="normal" font-size="100" fill="#000">GK+DDP+Fer-1</text>
<text transform="translate(40.90 1341.14) rotate(-90) scale(0.4694 0.4931)" font-family="Liberation Serif" font-weight="bold" font-size="100">Protein relative expression</text>
<line x1="132.9" y1="724" x2="132.9" y2="1461.3" stroke="#262626" stroke-width="2.4"/>
<line x1="121.9" y1="725" x2="133" y2="725" stroke="#262626" stroke-width="2.2"/>
<line x1="121.9" y1="970" x2="133" y2="970" stroke="#262626" stroke-width="2.2"/>
<line x1="121.9" y1="1215" x2="133" y2="1215" stroke="#262626" stroke-width="2.2"/>
<line x1="121.9" y1="1460.2" x2="133" y2="1460.2" stroke="#262626" stroke-width="2.2"/>
<line x1="121.9" y1="1460.2" x2="1234.5" y2="1460.2" stroke="#111" stroke-width="2.3"/>
<line x1="266.1" y1="1460.2" x2="266.1" y2="1470.3" stroke="#000" stroke-width="2.4"/>
<line x1="544.4" y1="1460.2" x2="544.4" y2="1470.3" stroke="#000" stroke-width="2.4"/>
<line x1="822.4" y1="1460.2" x2="822.4" y2="1470.3" stroke="#000" stroke-width="2.4"/>
<line x1="1100.4" y1="1460.2" x2="1100.4" y2="1470.3" stroke="#000" stroke-width="2.4"/>
<line x1="154.10" y1="940" x2="154.10" y2="928.1" stroke="#333" stroke-width="1.5"/>
<line x1="148.50" y1="928.1" x2="159.70" y2="928.1" stroke="#333" stroke-width="1.6"/>
<rect x="145.20" y="939.60" width="17.80" height="520.60" fill="#115e50" stroke="#000" stroke-width="3.2"/>
<path d="M153.20,918.20L153.20,914.30M153.20,918.20L156.91,916.99M153.20,918.20L155.49,921.36M153.20,918.20L150.91,921.36M153.20,918.20L149.49,916.99" stroke="#000" stroke-width="1.9" stroke-linecap="round" fill="none"/>
<line x1="186.23" y1="998" x2="186.23" y2="985.5" stroke="#333" stroke-width="1.5"/>
<line x1="180.63" y1="985.5" x2="191.83" y2="985.5" stroke="#333" stroke-width="1.6"/>
<rect x="177.33" y="997.60" width="17.80" height="462.60" fill="#9c3a64" stroke="#000" stroke-width="3.2"/>
<path d="M185.33,976.00L185.33,972.10M185.33,976.00L189.04,974.79M185.33,976.00L187.62,979.16M185.33,976.00L183.04,979.16M185.33,976.00L181.62,974.79" stroke="#000" stroke-width="1.9" stroke-linecap="round" fill="none"/>
<line x1="218.36" y1="1061.1" x2="218.36" y2="1053.3" stroke="#333" stroke-width="1.5"/>
<line x1="212.76" y1="1053.3" x2="223.96" y2="1053.3" stroke="#333" stroke-width="1.6"/>
<rect x="209.46" y="1060.70" width="17.80" height="399.50" fill="#dfb520" stroke="#000" stroke-width="3.2"/>
<path d="M217.46,1046.20L217.46,1042.30M217.46,1046.20L221.17,1044.99M217.46,1046.20L219.75,1049.36M217.46,1046.20L215.17,1049.36M217.46,1046.20L213.75,1044.99" stroke="#000" stroke-width="1.9" stroke-linecap="round" fill="none"/>
<line x1="250.49" y1="1291" x2="250.49" y2="1281" stroke="#333" stroke-width="1.5"/>
<line x1="244.89" y1="1281" x2="256.09" y2="1281" stroke="#333" stroke-width="1.6"/>
<rect x="241.59" y="1290.60" width="17.80" height="169.60" fill="#28359a" stroke="#000" stroke-width="3.2"/>
<line x1="282.62" y1="883" x2="282.62" y2="869.4" stroke="#333" stroke-width="1.5"/>
<line x1="277.02" y1="869.4" x2="288.22" y2="869.4" stroke="#333" stroke-width="1.6"/>
<rect x="273.72" y="882.60" width="17.80" height="577.60" fill="#4f116f" stroke="#000" stroke-width="3.2"/>
<text transform="translate(277.67 868.15) scale(0.1979 0.1923)" font-family="Liberation Serif" font-weight="bold" font-size="100">#</text>
<line x1="314.75" y1="1228.6" x2="314.75" y2="1224.4" stroke="#333" stroke-width="1.5"/>
<line x1="309.15" y1="1224.4" x2="320.35" y2="1224.4" stroke="#333" stroke-width="1.6"/>
<rect x="305.85" y="1228.20" width="17.80" height="232.00" fill="#c43b06" stroke="#000" stroke-width="3.2"/>
<path d="M313.85,1216.40L313.85,1212.50M313.85,1216.40L317.56,1215.19M313.85,1216.40L316.14,1219.56M313.85,1216.40L311.56,1219.56M313.85,1216.40L310.14,1215.19" stroke="#000" stroke-width="1.9" stroke-linecap="round" fill="none"/>
<line x1="346.88" y1="945.4" x2="346.88" y2="931.1" stroke="#333" stroke-width="1.5"/>
<line x1="341.28" y1="931.1" x2="352.48" y2="931.1" stroke="#333" stroke-width="1.6"/>
<rect x="337.98" y="945.00" width="17.80" height="515.20" fill="#00bf9f" stroke="#000" stroke-width="3.2"/>
<text transform="translate(340.87 929.15) scale(0.1431 0.1761)" font-family="Liberation Serif" font-weight="bold" font-size="100">&amp;</text>
<line x1="379.01" y1="1086" x2="379.01" y2="1064.2" stroke="#333" stroke-width="1.5"/>
<line x1="373.41" y1="1064.2" x2="384.61" y2="1064.2" stroke="#333" stroke-width="1.6"/>
<rect x="370.11" y="1085.60" width="17.80" height="374.60" fill="#e60010" stroke="#000" stroke-width="3.2"/>
<path d="M378.11,1056.10L378.11,1052.20M378.11,1056.10L381.82,1054.89M378.11,1056.10L380.40,1059.26M378.11,1056.10L375.82,1059.26M378.11,1056.10L374.40,1054.89" stroke="#000" stroke-width="1.9" stroke-linecap="round" fill="none"/>
<line x1="432.10" y1="1274.2" x2="432.10" y2="1265.1" stroke="#333" stroke-width="1.5"/>
<line x1="426.50" y1="1265.1" x2="437.70" y2="1265.1" stroke="#333" stroke-width="1.6"/>
<rect x="423.20" y="1273.80" width="17.80" height="186.40" fill="#115e50" stroke="#000" stroke-width="3.2"/>
<path d="M431.20,1257.20L431.20,1253.30M431.20,1257.20L434.91,1255.99M431.20,1257.20L433.49,1260.36M431.20,1257.20L428.91,1260.36M431.20,1257.20L427.49,1255.99" stroke="#000" stroke-width="1.9" stroke-linecap="round" fill="none"/>
<line x1="464.23" y1="1315.8" x2="464.23" y2="1308.8" stroke="#333" stroke-width="1.5"/>
<line x1="458.63" y1="1308.8" x2="469.83" y2="1308.8" stroke="#333" stroke-width="1.6"/>
<rect x="455.33" y="1315.40" width="17.80" height="144.80" fill="#9c3a64" stroke="#000" stroke-width="3.2"/>
<path d="M463.33,1299.70L463.33,1295.80M463.33,1299.70L467.04,1298.49M463.33,1299.70L465.62,1302.86M463.33,1299.70L461.04,1302.86M463.33,1299.70L459.62,1298.49" stroke="#000" stroke-width="1.9" stroke-linecap="round" fill="none"/>
<line x1="496.36" y1="1343.5" x2="496.36" y2="1333.9" stroke="#333" stroke-width="1.5"/>
<line x1="490.76" y1="1333.9" x2="501.96" y2="1333.9" stroke="#333" stroke-width="1.6"/>
<rect x="487.46" y="1343.10" width="17.80" height="117.10" fill="#dfb520" stroke="#000" stroke-width="3.2"/>
<path d="M495.46,1326.00L495.46,1322.10M495.46,1326.00L499.17,1324.79M495.46,1326.00L497.75,1329.16M495.46,1326.00L493.17,1329.16M495.46,1326.00L491.75,1324.79" stroke="#000" stroke-width="1.9" stroke-linecap="round" fill="none"/>
<line x1="528.49" y1="1423.9" x2="528.49" y2="1418.2" stroke="#333" stroke-width="1.5"/>
<line x1="522.89" y1="1418.2" x2="534.09" y2="1418.2" stroke="#333" stroke-width="1.6"/>
<rect x="519.59" y="1423.50" width="17.80" height="36.70" fill="#28359a" stroke="#000" stroke-width="3.2"/>
<line x1="560.62" y1="1202.4" x2="560.62" y2="1187.6" stroke="#333" stroke-width="1.5"/>
<line x1="555.02" y1="1187.6" x2="566.22" y2="1187.6" stroke="#333" stroke-width="1.6"/>
<rect x="551.72" y="1202.00" width="17.80" height="258.20" fill="#4f116f" stroke="#000" stroke-width="3.2"/>
<text transform="translate(555.67 1185.95) scale(0.1979 0.1923)" font-family="Liberation Serif" font-weight="bold" font-size="100">#</text>
<line x1="592.75" y1="1353.3" x2="592.75" y2="1348.2" stroke="#333" stroke-width="1.5"/>
<line x1="587.15" y1="1348.2" x2="598.35" y2="1348.2" stroke="#333" stroke-width="1.6"/>
<rect x="583.85" y="1352.90" width="17.80" height="107.30" fill="#c43b06" stroke="#000" stroke-width="3.2"/>
<path d="M591.85,1339.70L591.85,1335.80M591.85,1339.70L595.56,1338.49M591.85,1339.70L594.14,1342.86M591.85,1339.70L589.56,1342.86M591.85,1339.70L588.14,1338.49" stroke="#000" stroke-width="1.9" stroke-linecap="round" fill="none"/>
<line x1="624.88" y1="1237" x2="624.88" y2="1225.2" stroke="#333" stroke-width="1.5"/>
<line x1="619.28" y1="1225.2" x2="630.48" y2="1225.2" stroke="#333" stroke-width="1.6"/>
<rect x="615.98" y="1236.60" width="17.80" height="223.60" fill="#00bf9f" stroke="#000" stroke-width="3.2"/>
<text transform="translate(618.87 1222.75) scale(0.1431 0.1761)" font-family="Liberation Serif" font-weight="bold" font-size="100">&amp;</text>
<line x1="657.01" y1="1367.6" x2="657.01" y2="1363.2" stroke="#333" stroke-width="1.5"/>
<line x1="651.41" y1="1363.2" x2="662.61" y2="1363.2" stroke="#333" stroke-width="1.6"/>
<rect x="648.11" y="1367.20" width="17.80" height="93.00" fill="#e60010" stroke="#000" stroke-width="3.2"/>
<path d="M656.11,1356.10L656.11,1352.20M656.11,1356.10L659.82,1354.89M656.11,1356.10L658.40,1359.26M656.11,1356.10L653.82,1359.26M656.11,1356.10L652.40,1354.89" stroke="#000" stroke-width="1.9" stroke-linecap="round" fill="none"/>
<line x1="710.10" y1="1126.6" x2="710.10" y2="1118.1" stroke="#333" stroke-width="1.5"/>
<line x1="704.50" y1="1118.1" x2="715.70" y2="1118.1" stroke="#333" stroke-width="1.6"/>
<rect x="701.20" y="1126.20" width="17.80" height="334.00" fill="#115e50" stroke="#000" stroke-width="3.2"/>
<path d="M709.20,1110.20L709.20,1106.30M709.20,1110.20L712.91,1108.99M709.20,1110.20L711.49,1113.36M709.20,1110.20L706.91,1113.36M709.20,1110.20L705.49,1108.99" stroke="#000" stroke-width="1.9" stroke-linecap="round" fill="none"/>
<line x1="742.23" y1="1201.8" x2="742.23" y2="1193.2" stroke="#333" stroke-width="1.5"/>
<line x1="736.63" y1="1193.2" x2="747.83" y2="1193.2" stroke="#333" stroke-width="1.6"/>
<rect x="733.33" y="1201.40" width="17.80" height="258.80" fill="#9c3a64" stroke="#000" stroke-width="3.2"/>
<path d="M741.33,1187.30L741.33,1183.40M741.33,1187.30L745.04,1186.09M741.33,1187.30L743.62,1190.46M741.33,1187.30L739.04,1190.46M741.33,1187.30L737.62,1186.09" stroke="#000" stroke-width="1.9" stroke-linecap="round" fill="none"/>
<line x1="774.36" y1="1254.8" x2="774.36" y2="1246.2" stroke="#333" stroke-width="1.5"/>
<line x1="768.76" y1="1246.2" x2="779.96" y2="1246.2" stroke="#333" stroke-width="1.6"/>
<rect x="765.46" y="1254.40" width="17.80" height="205.80" fill="#dfb520" stroke="#000" stroke-width="3.2"/>
<path d="M773.46,1239.30L773.46,1235.40M773.46,1239.30L777.17,1238.09M773.46,1239.30L775.75,1242.46M773.46,1239.30L771.17,1242.46M773.46,1239.30L769.75,1238.09" stroke="#000" stroke-width="1.9" stroke-linecap="round" fill="none"/>
<line x1="806.49" y1="1417" x2="806.49" y2="1409.5" stroke="#333" stroke-width="1.5"/>
<line x1="800.89" y1="1409.5" x2="812.09" y2="1409.5" stroke="#333" stroke-width="1.6"/>
<rect x="797.59" y="1416.60" width="17.80" height="43.60" fill="#28359a" stroke="#000" stroke-width="3.2"/>
<line x1="838.62" y1="1202.2" x2="838.62" y2="1176.4" stroke="#333" stroke-width="1.5"/>
<line x1="833.02" y1="1176.4" x2="844.22" y2="1176.4" stroke="#333" stroke-width="1.6"/>
<rect x="829.72" y="1201.80" width="17.80" height="258.40" fill="#4f116f" stroke="#000" stroke-width="3.2"/>
<text transform="translate(833.67 1173.75) scale(0.1979 0.1923)" font-family="Liberation Serif" font-weight="bold" font-size="100">#</text>
<line x1="870.75" y1="1349" x2="870.75" y2="1327" stroke="#333" stroke-width="1.5"/>
<line x1="865.15" y1="1327" x2="876.35" y2="1327" stroke="#333" stroke-width="1.6"/>
<rect x="861.85" y="1348.60" width="17.80" height="111.60" fill="#c43b06" stroke="#000" stroke-width="3.2"/>
<path d="M869.85,1319.70L869.85,1315.80M869.85,1319.70L873.56,1318.49M869.85,1319.70L872.14,1322.86M869.85,1319.70L867.56,1322.86M869.85,1319.70L866.14,1318.49" stroke="#000" stroke-width="1.9" stroke-linecap="round" fill="none"/>
<line x1="902.88" y1="1150.7" x2="902.88" y2="1141" stroke="#333" stroke-width="1.5"/>
<line x1="897.28" y1="1141" x2="908.48" y2="1141" stroke="#333" stroke-width="1.6"/>
<rect x="893.98" y="1150.30" width="17.80" height="309.90" fill="#00bf9f" stroke="#000" stroke-width="3.2"/>
<text transform="translate(896.87 1138.05) scale(0.1431 0.1761)" font-family="Liberation Serif" font-weight="bold" font-size="100">&amp;</text>
<line x1="935.01" y1="1367.7" x2="935.01" y2="1362.3" stroke="#333" stroke-width="1.5"/>
<line x1="929.41" y1="1362.3" x2="940.61" y2="1362.3" stroke="#333" stroke-width="1.6"/>
<rect x="926.11" y="1367.30" width="17.80" height="92.90" fill="#e60010" stroke="#000" stroke-width="3.2"/>
<path d="M934.11,1356.20L934.11,1352.30M934.11,1356.20L937.82,1354.99M934.11,1356.20L936.40,1359.36M934.11,1356.20L931.82,1359.36M934.11,1356.20L930.40,1354.99" stroke="#000" stroke-width="1.9" stroke-linecap="round" fill="none"/>
<line x1="988.20" y1="1399.1" x2="988.20" y2="1396.5" stroke="#333" stroke-width="1.5"/>
<line x1="982.60" y1="1396.5" x2="993.80" y2="1396.5" stroke="#333" stroke-width="1.6"/>
<rect x="979.30" y="1398.70" width="17.80" height="61.50" fill="#115e50" stroke="#000" stroke-width="3.2"/>
<path d="M987.30,1388.00L987.30,1384.10M987.30,1388.00L991.01,1386.79M987.30,1388.00L989.59,1391.16M987.30,1388.00L985.01,1391.16M987.30,1388.00L983.59,1386.79" stroke="#000" stroke-width="1.9" stroke-linecap="round" fill="none"/>
<line x1="1020.33" y1="1150.8" x2="1020.33" y2="1144.1" stroke="#333" stroke-width="1.5"/>
<line x1="1014.73" y1="1144.1" x2="1025.93" y2="1144.1" stroke="#333" stroke-width="1.6"/>
<rect x="1011.43" y="1150.40" width="17.80" height="309.80" fill="#9c3a64" stroke="#000" stroke-width="3.2"/>
<path d="M1019.43,1137.00L1019.43,1133.10M1019.43,1137.00L1023.14,1135.79M1019.43,1137.00L1021.72,1140.16M1019.43,1137.00L1017.14,1140.16M1019.43,1137.00L1015.72,1135.79" stroke="#000" stroke-width="1.9" stroke-linecap="round" fill="none"/>
<line x1="1052.46" y1="1079.2" x2="1052.46" y2="1071.3" stroke="#333" stroke-width="1.5"/>
<line x1="1046.86" y1="1071.3" x2="1058.06" y2="1071.3" stroke="#333" stroke-width="1.6"/>
<rect x="1043.56" y="1078.80" width="17.80" height="381.40" fill="#dfb520" stroke="#000" stroke-width="3.2"/>
<path d="M1051.56,1063.80L1051.56,1059.90M1051.56,1063.80L1055.27,1062.59M1051.56,1063.80L1053.85,1066.96M1051.56,1063.80L1049.27,1066.96M1051.56,1063.80L1047.85,1062.59" stroke="#000" stroke-width="1.9" stroke-linecap="round" fill="none"/>
<line x1="1084.59" y1="947.1" x2="1084.59" y2="937.8" stroke="#333" stroke-width="1.5"/>
<line x1="1078.99" y1="937.8" x2="1090.19" y2="937.8" stroke="#333" stroke-width="1.6"/>
<rect x="1075.69" y="946.70" width="17.80" height="513.50" fill="#28359a" stroke="#000" stroke-width="3.2"/>
<line x1="1116.72" y1="1312.1" x2="1116.72" y2="1300" stroke="#333" stroke-width="1.5"/>
<line x1="1111.12" y1="1300" x2="1122.32" y2="1300" stroke="#333" stroke-width="1.6"/>
<rect x="1107.82" y="1311.70" width="17.80" height="148.50" fill="#4f116f" stroke="#000" stroke-width="3.2"/>
<text transform="translate(1111.77 1298.35) scale(0.1979 0.1923)" font-family="Liberation Serif" font-weight="bold" font-size="100">#</text>
<line x1="1148.85" y1="1059.9" x2="1148.85" y2="1042.6" stroke="#333" stroke-width="1.5"/>
<line x1="1143.25" y1="1042.6" x2="1154.45" y2="1042.6" stroke="#333" stroke-width="1.6"/>
<rect x="1139.95" y="1059.50" width="17.80" height="400.70" fill="#c43b06" stroke="#000" stroke-width="3.2"/>
<path d="M1147.95,1035.70L1147.95,1031.80M1147.95,1035.70L1151.66,1034.49M1147.95,1035.70L1150.24,1038.86M1147.95,1035.70L1145.66,1038.86M1147.95,1035.70L1144.24,1034.49" stroke="#000" stroke-width="1.9" stroke-linecap="round" fill="none"/>
<line x1="1180.98" y1="1320.8" x2="1180.98" y2="1310.1" stroke="#333" stroke-width="1.5"/>
<line x1="1175.38" y1="1310.1" x2="1186.58" y2="1310.1" stroke="#333" stroke-width="1.6"/>
<rect x="1172.08" y="1320.40" width="17.80" height="139.80" fill="#00bf9f" stroke="#000" stroke-width="3.2"/>
<text transform="translate(1174.97 1307.75) scale(0.1431 0.1761)" font-family="Liberation Serif" font-weight="bold" font-size="100">&amp;</text>
<line x1="1213.11" y1="1032.8" x2="1213.11" y2="1019.3" stroke="#333" stroke-width="1.5"/>
<line x1="1207.51" y1="1019.3" x2="1218.71" y2="1019.3" stroke="#333" stroke-width="1.6"/>
<rect x="1204.21" y="1032.40" width="17.80" height="427.80" fill="#e60010" stroke="#000" stroke-width="3.2"/>
<path d="M1212.21,1012.00L1212.21,1008.10M1212.21,1012.00L1215.92,1010.79M1212.21,1012.00L1214.50,1015.16M1212.21,1012.00L1209.92,1015.16M1212.21,1012.00L1208.50,1010.79" stroke="#000" stroke-width="1.9" stroke-linecap="round" fill="none"/>
<rect x="282.4" y="717.6" width="26.2" height="28.8" fill="#115e50" stroke="#000" stroke-width="3.2"/>
<rect x="282.4" y="767.1" width="26.2" height="28.8" fill="#9c3a64" stroke="#000" stroke-width="3.2"/>
<rect x="463.2" y="717.6" width="26.2" height="28.8" fill="#dfb520" stroke="#000" stroke-width="3.2"/>
<rect x="463.2" y="767.1" width="26.2" height="28.8" fill="#28359a" stroke="#000" stroke-width="3.2"/>
<rect x="668.0" y="717.6" width="26.2" height="28.8" fill="#4f116f" stroke="#000" stroke-width="3.2"/>
<rect x="668.0" y="766.6" width="26.2" height="28.8" fill="#00bf9f" stroke="#000" stroke-width="3.2"/>
<rect x="834.1" y="717.6" width="26.2" height="28.8" fill="#c43b06" stroke="#000" stroke-width="3.2"/>
<rect x="834.1" y="767.1" width="26.2" height="28.8" fill="#e60010" stroke="#000" stroke-width="3.2"/></g></svg>
</body></html>
